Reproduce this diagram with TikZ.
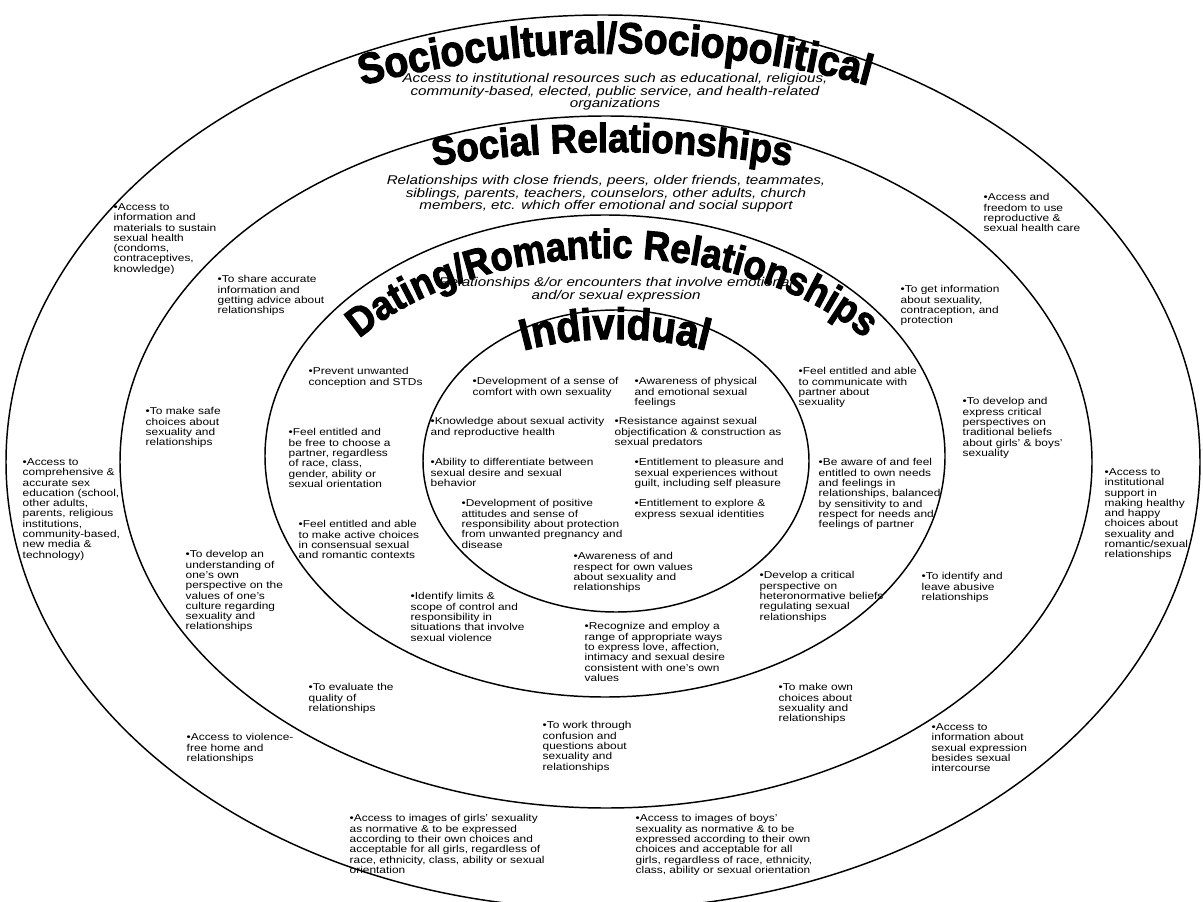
\documentclass[tikz,border=0pt]{standalone}
\usepackage{fontspec}
\setmainfont{Liberation Sans}
\newfontfamily\itemfont[FakeStretch=1.19]{Liberation Sans}
\newfontfamily\descfont[FakeStretch=1.2]{Liberation Sans}
\newfontfamily\titlefont[FakeBold=2.5,FakeStretch=0.9]{Liberation Sans}
\usetikzlibrary{decorations.text}

\newcommand{\ringfont}[1]{\titlefont\bfseries\fontsize{#1}{#1}\selectfont}

\tikzset{every picture/.style={line width=1.1pt}}
\tikzset{
  goal/.style={anchor=north west, inner sep=0pt, align=left, font=\itemfont\fontsize{7.5}{7.7}\selectfont},
  ringdesc/.style={anchor=north, inner sep=0pt, align=center, font=\descfont\itshape\fontsize{9.5}{9.4}\selectfont},
  ringtitle/.style={decorate, decoration={text along path, text align=center, text={#1}}}
}

\begin{document}
\begin{tikzpicture}[x=0.75pt,y=0.75pt,yscale=-1,xscale=1]
\useasboundingbox (0,0) rectangle (1203,902);

%Shape: Ellipse [sociocultural]
\draw   (603,462) ellipse [x radius=597, y radius=447];
%Shape: Ellipse [social]
\draw   (606,462) ellipse [x radius=486, y radius=346];
%Shape: Ellipse [dating]
\draw   (605,456) ellipse [x radius=340, y radius=241];
%Shape: Ellipse [individual]
\draw   (616,461) ellipse [x radius=193, y radius=151];

% Ring titles
\path [ringtitle={|\ringfont{32.5}|Sociocultural/Sociopolitical}] ([shift={(230:640 and 400)}]615,453) arc [start angle=230, end angle=310, x radius=640, y radius=400];
\path [ringtitle={|\ringfont{30.5}|Social Relationships}] ([shift={(230:600 and 312)}]612,464) arc [start angle=230, end angle=310, x radius=600, y radius=312];
\path [ringtitle={|\ringfont{30.5}|Dating/Romantic Relationships}] ([shift={(180:315 and 200)}]612,458) arc [start angle=180, end angle=360, x radius=315, y radius=200];
\path [ringtitle={|\ringfont{33}|Individual}] ([shift={(200:215 and 122)}]615,461) arc [start angle=200, end angle=340, x radius=215, y radius=122];

% Text Node
\draw (615,73) node [ringdesc] (socdesc) {Access to institutional resources such as educational, religious,\\community-based, elected, public service, and health-related\\organizations};
% Text Node
\draw (606,175) node [ringdesc] (reldesc) {Relationships with close friends, peers, older friends, teammates,\\siblings, parents, teachers, counselors, other adults, church\\members, etc. which offer emotional and social support};
% Text Node
\draw (616,277) node [ringdesc] (datedesc) {Relationships \&/or encounters that involve emotional\\and/or sexual expression};

%% sociocultural ring
% Text Node
\draw (113,203) node [goal] (sexhealth) {•Access to\\information and\\materials to sustain\\sexual health\\(condoms,\\contraceptives,\\knowledge)};
% Text Node
\draw (983,193) node [goal] (carefree) {•Access and\\freedom to use\\reproductive \&\\sexual health care};
% Text Node
\draw (22,458) node [goal] (sexed) {•Access to\\comprehensive \&\\accurate sex\\education (school,\\other adults,\\parents, religious\\institutions,\\community-based,\\new media \&\\technology)};
% Text Node
\draw (1104,468) node [goal] (support) {•Access to\\institutional\\support in\\making healthy\\and happy\\choices about\\sexuality and\\romantic/sexual\\relationships};
% Text Node
\draw (186,733) node [goal] (safehome) {•Access to violence-\\free home and\\relationships};
% Text Node
\draw (931,723) node [goal] (expression) {•Access to\\information about\\sexual expression\\besides sexual\\intercourse};
% Text Node
\draw (349,814) node [goal] (girlsimg) {•Access to images of girls’ sexuality\\as normative \& to be expressed\\according to their own choices and\\acceptable for all girls, regardless of\\race, ethnicity, class, ability or sexual\\orientation};
% Text Node
\draw (635,814) node [goal] (boysimg) {•Access to images of boys’\\sexuality as normative \& to be\\expressed according to their own\\choices and acceptable for all\\girls, regardless of race, ethnicity,\\class, ability or sexual orientation};

%% social ring
% Text Node
\draw (217,275) node [goal] (shareinfo) {•To share accurate\\information and\\getting advice about\\relationships};
% Text Node
\draw (900,285) node [goal] (getinfo) {•To get information\\about sexuality,\\contraception, and\\protection};
% Text Node
\draw (145,407) node [goal] (safechoice) {•To make safe\\choices about\\sexuality and\\relationships};
% Text Node
\draw (962,397) node [goal] (critical) {•To develop and\\express critical\\perspectives on\\traditional beliefs\\about girls’ \& boys’\\sexuality};
% Text Node
\draw (185,550) node [goal] (culture) {•To develop an\\understanding of\\one’s own\\perspective on the\\values of one’s\\culture regarding\\sexuality and\\relationships};
% Text Node
\draw (921,572) node [goal] (abusive) {•To identify and\\leave abusive\\relationships};
% Text Node
\draw (308,683) node [goal] (evaluate) {•To evaluate the\\quality of\\relationships};
% Text Node
\draw (778,683) node [goal] (ownchoice) {•To make own\\choices about\\sexuality and\\relationships};
% Text Node
\draw (542,721) node [goal] (confusion) {•To work through\\confusion and\\questions about\\sexuality and\\relationships};

%% dating ring
% Text Node
\draw (308,367) node [goal] (prevent) {•Prevent unwanted\\conception and STDs};
% Text Node
\draw (798,367) node [goal] (communicate) {•Feel entitled and able\\to communicate with\\partner about\\sexuality};
% Text Node
\draw (288,428) node [goal] (choosepartner) {•Feel entitled and\\be free to choose a\\partner, regardless\\of race, class,\\gender, ability or\\sexual orientation};
% Text Node
\draw (818,458) node [goal] (aware) {•Be aware of and feel\\entitled to own needs\\and feelings in\\relationships, balanced\\by sensitivity to and\\respect for needs and\\feelings of partner};
% Text Node
\draw (298,520) node [goal] (activechoice) {•Feel entitled and able\\to make active choices\\in consensual sexual\\and romantic contexts};
% Text Node
\draw (759,571) node [goal] (heteronorm) {•Develop a critical\\perspective on\\heteronormative beliefs\\regulating sexual\\relationships};
% Text Node
\draw (410,592) node [goal] (limits) {•Identify limits \&\\scope of control and\\responsibility in\\situations that involve\\sexual violence};
% Text Node
\draw (584,622) node [goal] (expresslove) {•Recognize and employ a\\range of appropriate ways\\to express love, affection,\\intimacy and sexual desire\\consistent with one’s own\\values};

%% individual
% Text Node
\draw (472,377) node [goal] (comfort) {•Development of a sense of\\comfort with own sexuality};
% Text Node
\draw (634,377) node [goal] (feelings) {•Awareness of physical\\and emotional sexual\\feelings};
% Text Node
\draw (430,417) node [goal] (knowledge) {•Knowledge about sexual activity\\and reproductive health};
% Text Node
\draw (614,417) node [goal] (resistance) {•Resistance against sexual\\objectification \& construction as\\sexual predators};
% Text Node
\draw (430,458) node [goal] (differentiate) {•Ability to differentiate between\\sexual desire and sexual\\behavior};
% Text Node
\draw (634,458) node [goal] (pleasure) {•Entitlement to pleasure and\\sexual experiences without\\guilt, including self pleasure};
% Text Node
\draw (461,499) node [goal] (attitudes) {•Development of positive\\attitudes and sense of\\responsibility about protection\\from unwanted pregnancy and\\disease};
% Text Node
\draw (634,499) node [goal] (identities) {•Entitlement to explore \&\\express sexual identities};
% Text Node
\draw (573,552) node [goal] (values) {•Awareness of and\\respect for own values\\about sexuality and\\relationships};

\end{tikzpicture}
\end{document}
